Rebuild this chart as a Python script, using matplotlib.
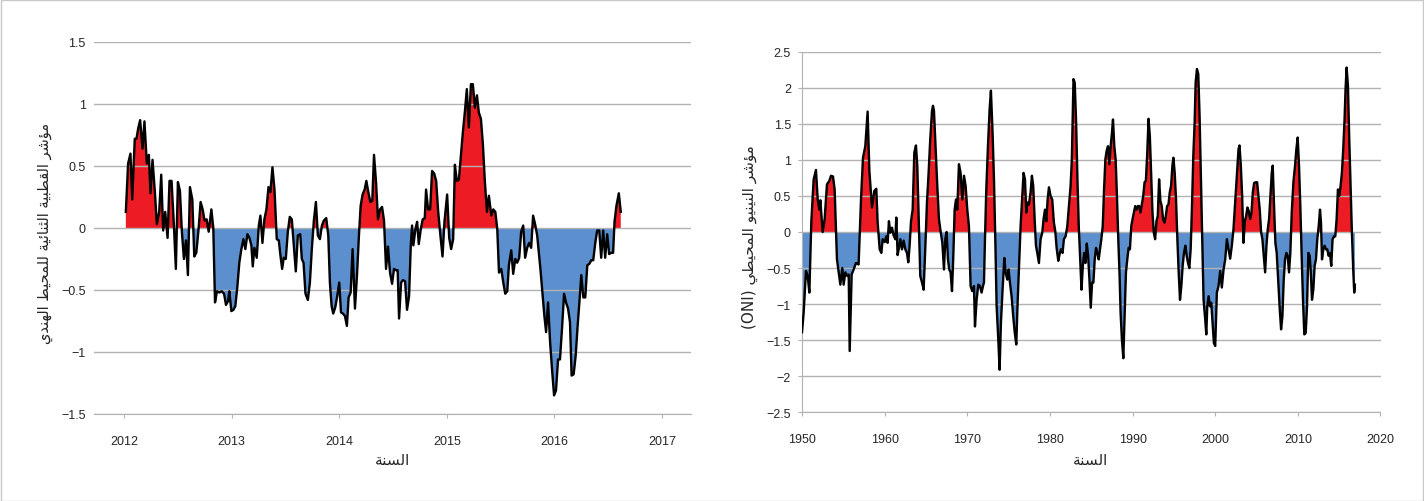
import matplotlib.pyplot as plt
from matplotlib.patches import Rectangle
import numpy as np

# Indian Ocean Dipole index, weekly
iod_year = [
    2012.016, 2012.037, 2012.059, 2012.075, 2012.099, 2012.115, 2012.130, 2012.149, 2012.171, 2012.189,
    2012.211, 2012.230, 2012.245, 2012.264, 2012.286, 2012.304, 2012.326, 2012.345, 2012.363, 2012.382,
    2012.404, 2012.422, 2012.441, 2012.463, 2012.481, 2012.500, 2012.519, 2012.537, 2012.556, 2012.575,
    2012.593, 2012.612, 2012.634, 2012.652, 2012.671, 2012.693, 2012.711, 2012.730, 2012.748, 2012.767,
    2012.786, 2012.811, 2012.829, 2012.845, 2012.863, 2012.885, 2012.907, 2012.929, 2012.947, 2012.966,
    2012.978, 2012.997, 2013.016, 2013.034, 2013.053, 2013.071, 2013.090, 2013.109, 2013.127, 2013.146,
    2013.165, 2013.183, 2013.196, 2013.211, 2013.233, 2013.252, 2013.267, 2013.286, 2013.304, 2013.323,
    2013.342, 2013.360, 2013.379, 2013.398, 2013.419, 2013.438, 2013.453, 2013.469, 2013.484, 2013.503,
    2013.522, 2013.540, 2013.559, 2013.578, 2013.596, 2013.615, 2013.637,
    2013.652, 2013.668, 2013.686, 2013.708, 2013.727, 2013.745, 2013.764, 2013.783, 2013.801, 2013.820,
    2013.839, 2013.857, 2013.879, 2013.898, 2013.913, 2013.929, 2013.944, 2013.963, 2013.981, 2014.000,
    2014.016, 2014.034, 2014.053, 2014.071, 2014.087, 2014.106, 2014.124, 2014.146, 2014.165, 2014.183,
    2014.199, 2014.217, 2014.236, 2014.252, 2014.270, 2014.289, 2014.307, 2014.323, 2014.342, 2014.360,
    2014.379, 2014.398, 2014.416, 2014.435, 2014.453, 2014.472, 2014.491, 2014.509, 2014.528, 2014.543,
    2014.556, 2014.575, 2014.593, 2014.612, 2014.630, 2014.649, 2014.665, 2014.677, 2014.689, 2014.708,
    2014.724, 2014.739, 2014.758, 2014.776, 2014.795, 2014.807, 2014.826, 2014.845, 2014.863, 2014.882,
    2014.901, 2014.919, 2014.938, 2014.960, 2014.978, 2015.003, 2015.022, 2015.040, 2015.059, 2015.075,
    2015.093, 2015.112, 2015.130, 2015.149, 2015.168, 2015.186, 2015.205, 2015.224, 2015.242, 2015.261,
    2015.280, 2015.298, 2015.317, 2015.335, 2015.354, 2015.373, 2015.391,
    2015.414, 2015.432, 2015.451, 2015.469, 2015.485, 2015.506, 2015.525, 2015.543, 2015.562, 2015.577,
    2015.599, 2015.617, 2015.636, 2015.654, 2015.673, 2015.691, 2015.710, 2015.728, 2015.747, 2015.765,
    2015.784, 2015.802, 2015.821, 2015.840, 2015.858, 2015.870, 2015.889, 2015.907, 2015.923, 2015.941,
    2015.960, 2015.978, 2015.997, 2016.015, 2016.034, 2016.052, 2016.071, 2016.090, 2016.108, 2016.127,
    2016.145, 2016.160, 2016.179, 2016.198, 2016.216, 2016.235, 2016.250, 2016.269, 2016.287, 2016.306,
    2016.324, 2016.343, 2016.361, 2016.380, 2016.398, 2016.417, 2016.435, 2016.454, 2016.472, 2016.491,
    2016.509, 2016.528, 2016.546, 2016.559, 2016.577, 2016.599, 2016.617,
]
iod_value = [
    0.13, 0.52, 0.60, 0.23, 0.72, 0.72, 0.80, 0.87, 0.64, 0.86,
    0.52, 0.59, 0.28, 0.55, 0.29, 0.03, 0.13, 0.43, -0.02, 0.13,
    -0.08, 0.38, 0.38, 0.02, -0.33, 0.37, 0.30, -0.03, -0.25, -0.10,
    -0.38, 0.33, 0.23, -0.23, -0.20, 0.00, 0.21, 0.15, 0.06, 0.07,
    -0.03, 0.15, 0.00, -0.60, -0.51, -0.52, -0.51, -0.53, -0.62, -0.59,
    -0.51, -0.67, -0.66, -0.63, -0.47, -0.28, -0.17, -0.09, -0.17, -0.05,
    -0.08, -0.14, -0.31, -0.16, -0.24, 0.02, 0.10, -0.12, 0.07, 0.15,
    0.33, 0.29, 0.49, 0.31, -0.09, -0.10, -0.22, -0.33, -0.24, -0.25,
    -0.03, 0.09, 0.07, -0.14, -0.35, -0.06, -0.05,
    -0.25, -0.28, -0.53, -0.58, -0.44, -0.17, 0.06, 0.21, -0.06, -0.09,
    0.02, 0.06, 0.08, -0.06, -0.44, -0.63, -0.69, -0.64, -0.55, -0.44,
    -0.68, -0.69, -0.71, -0.79, -0.56, -0.52, -0.17, -0.65, -0.38, -0.06,
    0.18, 0.27, 0.31, 0.38, 0.29, 0.21, 0.22, 0.59, 0.37, 0.07,
    0.15, 0.17, 0.06, -0.33, -0.15, -0.36, -0.45, -0.33, -0.34, -0.34,
    -0.73, -0.44, -0.42, -0.43, -0.66, -0.55, -0.14, 0.02, -0.14, -0.01,
    0.05, -0.13, -0.01, 0.07, 0.08, 0.31, 0.15, 0.15, 0.46, 0.44,
    0.38, 0.14, -0.04, -0.23, 0.05, 0.27, -0.08, -0.17, -0.09, 0.51,
    0.38, 0.39, 0.58, 0.77, 0.94, 1.12, 0.81, 1.16, 1.16, 0.97,
    1.07, 0.93, 0.88, 0.68, 0.37, 0.13, 0.26,
    0.10, 0.15, 0.13, -0.01, -0.36, -0.33, -0.44, -0.53, -0.51, -0.30,
    -0.18, -0.37, -0.25, -0.28, -0.24, -0.03, 0.02, -0.24, -0.16, -0.12,
    -0.16, 0.10, 0.03, -0.06, -0.22, -0.33, -0.52, -0.71, -0.84, -0.60,
    -0.92, -1.14, -1.35, -1.31, -1.06, -1.06, -0.81, -0.53, -0.60, -0.65,
    -0.76, -1.19, -1.18, -1.03, -0.79, -0.57, -0.38, -0.56, -0.56, -0.30,
    -0.29, -0.26, -0.26, -0.12, -0.02, -0.02, -0.24, -0.02, -0.24, -0.05,
    -0.21, -0.20, -0.20, 0.05, 0.18, 0.28, 0.13,
]

# Oceanic Nino Index
oni_year = [
    1950.00, 1950.20, 1950.48, 1950.69, 1950.89, 1951.13, 1951.41, 1951.69, 1951.90, 1952.10,
    1952.22, 1952.50, 1952.74, 1953.02, 1953.31, 1953.51, 1953.75, 1953.95, 1954.23, 1954.48,
    1954.64, 1954.88, 1955.04, 1955.24, 1955.48, 1955.65, 1955.77, 1956.01, 1956.25, 1956.53,
    1956.85, 1957.14, 1957.38, 1957.66, 1957.94, 1958.15, 1958.47, 1958.75, 1958.99, 1959.15,
    1959.40, 1959.60, 1959.76, 1960.00, 1960.20, 1960.36, 1960.52, 1960.69, 1960.89, 1961.09,
    1961.29, 1961.41, 1961.57, 1961.73, 1961.90, 1962.10, 1962.30, 1962.50, 1962.70, 1962.86,
    1963.02, 1963.19, 1963.39, 1963.59, 1963.79, 1963.95, 1964.15, 1964.31, 1964.52, 1964.72,
    1964.92, 1965.12, 1965.32, 1965.52, 1965.73, 1965.85, 1965.97, 1966.17, 1966.37, 1966.57,
    1966.77, 1966.98, 1967.18, 1967.34, 1967.50, 1967.66, 1967.82, 1967.98, 1968.15, 1968.31,
    1968.47, 1968.63, 1968.79, 1968.99, 1969.19, 1969.40, 1969.60, 1969.80, 1970.00, 1970.20,
    1970.40, 1970.60, 1970.81, 1970.93, 1971.13, 1971.33, 1971.53, 1971.73, 1971.90, 1972.02,
    1972.14, 1972.30, 1972.50, 1972.70, 1972.86, 1973.06, 1973.23, 1973.39, 1973.55, 1973.75,
    1973.91, 1974.07, 1974.27, 1974.48, 1974.64, 1974.84, 1975.00, 1975.16, 1975.36, 1975.56,
    1975.73, 1975.93, 1976.09, 1976.29, 1976.45, 1976.65, 1976.81, 1976.98, 1977.14, 1977.26,
    1977.46, 1977.66, 1977.82, 1977.98, 1978.15, 1978.31, 1978.47, 1978.67, 1978.87, 1979.07,
    1979.23, 1979.40, 1979.56, 1979.72, 1979.88, 1980.08, 1980.28, 1980.48, 1980.65, 1980.81,
    1981.01, 1981.17, 1981.33, 1981.53, 1981.69, 1981.90, 1982.10, 1982.30, 1982.50, 1982.65,
    1982.85, 1983.00, 1983.17, 1983.33, 1983.49, 1983.65, 1983.82, 1983.98, 1984.14, 1984.30,
    1984.46, 1984.62, 1984.78, 1984.94, 1985.10, 1985.26, 1985.42, 1985.58, 1985.74, 1985.90,
    1986.06, 1986.22, 1986.39, 1986.55, 1986.71, 1986.87, 1987.03, 1987.19, 1987.35, 1987.51,
    1987.63, 1987.79, 1987.95, 1988.11, 1988.27, 1988.43, 1988.55, 1988.71, 1988.88, 1989.04,
    1989.20, 1989.36, 1989.52, 1989.68, 1989.84, 1990.00, 1990.16, 1990.32, 1990.48, 1990.64,
    1990.80, 1990.96, 1991.12, 1991.29, 1991.45, 1991.61, 1991.77, 1991.93, 1992.09, 1992.25,
    1992.41, 1992.57, 1992.73, 1992.89, 1993.05, 1993.21, 1993.37, 1993.53, 1993.69, 1993.86,
    1994.02, 1994.18, 1994.34, 1994.50, 1994.66, 1994.82, 1994.94, 1995.10, 1995.26, 1995.42,
    1995.58, 1995.74, 1995.90, 1996.06, 1996.22, 1996.39, 1996.55, 1996.71, 1996.87, 1997.03,
    1997.19, 1997.35, 1997.51, 1997.63, 1997.79, 1997.95, 1998.11, 1998.27, 1998.43, 1998.59,
    1998.76, 1998.92, 1999.04, 1999.20, 1999.36, 1999.52, 1999.68, 1999.84, 2000.00, 2000.20,
    2000.40, 2000.60, 2000.80, 2001.01, 2001.21, 2001.41, 2001.61, 2001.81, 2002.01, 2002.21,
    2002.41, 2002.62, 2002.82, 2002.94, 2003.10, 2003.26, 2003.42, 2003.58, 2003.74, 2003.90,
    2004.06, 2004.23, 2004.39, 2004.55, 2004.71, 2004.91, 2005.07, 2005.23, 2005.39, 2005.55,
    2005.71, 2005.88, 2006.04, 2006.20, 2006.36, 2006.52, 2006.68, 2006.84, 2006.96, 2007.12,
    2007.28, 2007.44, 2007.65, 2007.81, 2007.97, 2008.13, 2008.29, 2008.45, 2008.61, 2008.77,
    2008.93, 2009.09, 2009.26, 2009.46, 2009.66, 2009.82, 2009.98, 2010.14, 2010.30, 2010.46,
    2010.62, 2010.78, 2010.95, 2011.11, 2011.27, 2011.43, 2011.55, 2011.71, 2011.87, 2012.03,
    2012.19, 2012.35, 2012.52, 2012.68, 2012.80, 2012.92, 2013.08, 2013.24, 2013.40, 2013.56,
    2013.72, 2013.88, 2014.04, 2014.20, 2014.37, 2014.53, 2014.69, 2014.85, 2015.01, 2015.17,
    2015.33, 2015.49, 2015.65, 2015.77, 2015.90, 2016.06, 2016.22, 2016.38, 2016.54, 2016.70,
    2016.82, 2016.90,
]
oni_value = [
    -1.39, -1.12, -0.54, -0.61, -0.84, 0.15, 0.73, 0.86, 0.45, 0.31,
    0.44, 0.00, 0.18, 0.66, 0.71, 0.78, 0.77, 0.59, -0.38, -0.59,
    -0.73, -0.50, -0.73, -0.56, -0.61, -0.59, -1.65, -0.59, -0.52, -0.43,
    -0.45, 0.45, 1.03, 1.19, 1.67, 0.85, 0.34, 0.57, 0.60, 0.14,
    -0.24, -0.29, -0.10, -0.14, -0.06, -0.15, 0.15, -0.01, 0.06, -0.05,
    -0.10, 0.20, -0.32, -0.22, -0.10, -0.24, -0.12, -0.24, -0.29, -0.42,
    -0.19, 0.15, 0.31, 1.10, 1.20, 0.92, 0.08, -0.61, -0.70, -0.80,
    -0.22, 0.41, 0.82, 1.29, 1.68, 1.75, 1.68, 1.15, 0.64, 0.18,
    0.01, -0.15, -0.52, -0.10, 0.00, -0.38, -0.52, -0.56, -0.82, -0.33,
    0.31, 0.45, 0.31, 0.94, 0.82, 0.45, 0.78, 0.64, 0.31, 0.08,
    -0.75, -0.82, -0.75, -1.31, -0.94, -0.73, -0.75, -0.84, -0.75, -0.70,
    -0.10, 0.59, 1.19, 1.70, 1.96, 1.38, 0.73, -0.10, -1.03, -1.49,
    -1.91, -1.26, -0.80, -0.36, -0.56, -0.66, -0.52, -0.70, -0.89, -1.17,
    -1.38, -1.56, -0.98, -0.38, 0.08, 0.50, 0.82, 0.73, 0.27, 0.41,
    0.38, 0.55, 0.78, 0.64, 0.18, -0.19, -0.29, -0.43, -0.10, -0.01,
    0.18, 0.31, 0.15, 0.45, 0.62, 0.50, 0.45, 0.13, 0.01, -0.22,
    -0.40, -0.31, -0.24, -0.29, -0.10, -0.06, 0.08, 0.36, 0.64, 1.00,
    2.12, 2.07, 1.52, 0.73, 0.08, -0.33, -0.80, -0.47, -0.29, -0.43,
    -0.16, -0.33, -0.66, -1.05, -0.70, -0.70, -0.38, -0.22, -0.29, -0.38,
    -0.24, -0.10, 0.08, 0.59, 1.01, 1.13, 1.19, 0.94, 1.19, 1.38,
    1.56, 1.19, 1.01, 0.50, -0.10, -0.61, -1.12, -1.49, -1.75, -1.17,
    -0.56, -0.38, -0.22, -0.24, 0.08, 0.18, 0.27, 0.36, 0.31, 0.36,
    0.36, 0.27, 0.38, 0.50, 0.69, 0.71, 1.08, 1.57, 1.33, 0.82,
    0.27, -0.01, -0.10, 0.15, 0.22, 0.73, 0.43, 0.36, 0.18, 0.13,
    0.22, 0.36, 0.38, 0.55, 0.64, 0.92, 1.03, 0.82, 0.45, -0.10,
    -0.56, -0.94, -0.75, -0.47, -0.29, -0.19, -0.33, -0.43, -0.50, -0.24,
    0.36, 1.06, 1.52, 2.07, 2.26, 2.19, 1.61, 0.73, -0.10, -0.94,
    -1.17, -1.42, -1.03, -0.89, -1.03, -0.98, -1.26, -1.54, -1.58, -0.84,
    -0.75, -0.54, -0.77, -0.52, -0.38, -0.10, -0.24, -0.37, -0.19, 0.04,
    0.41, 0.78, 1.15, 1.20, 0.92, 0.50, -0.15, 0.15, 0.22, 0.34,
    0.29, 0.18, 0.27, 0.55, 0.68, 0.69, 0.69, 0.50, 0.31, 0.00,
    -0.10, -0.33, -0.56, -0.19, 0.04, 0.18, 0.50, 0.82, 0.92, 0.36,
    -0.15, -0.29, -0.74, -1.07, -1.35, -1.17, -0.66, -0.38, -0.29, -0.33,
    -0.56, -0.29, 0.27, 0.69, 0.92, 1.15, 1.31, 0.92, 0.36, -0.33,
    -0.94, -1.42, -1.40, -1.03, -0.29, -0.33, -0.52, -0.94, -0.80, -0.47,
    -0.38, -0.10, 0.08, 0.31, 0.13, -0.38, -0.24, -0.19, -0.24, -0.24,
    -0.33, -0.29, -0.47, -0.10, -0.06, -0.06, 0.18, 0.59, 0.50, 0.64,
    0.82, 1.15, 1.56, 1.98, 2.28, 2.03, 1.29, 0.64, -0.01, -0.52,
    -0.84, -0.73,
]

iod_xticks = [2012, 2013, 2014, 2015, 2016, 2017]
iod_yticks = [-1.5, -1, -0.5, 0, 0.5, 1, 1.5]
oni_xticks = [1950, 1960, 1970, 1980, 1990, 2000, 2010, 2020]
oni_yticks = [-2.5, -2, -1.5, -1, -0.5, 0, 0.5, 1, 1.5, 2, 2.5]

x_title = 'السنة'
iod_title = 'مؤشر القطبية الثنائية للمحيط الهندي'
oni_title = 'مؤشر النينيو المحيطي'

RED = '#ed1c24'
BLUE = '#5b8fcd'
GRID = '#b2b2b2'
TXT = '#262626'

# Arabic presentation forms: isolated, final, initial, medial
FORMS = {
    'ا': '\uFE8D\uFE8E', 'ؤ': '\uFE85\uFE86', 'د': '\uFEA9\uFEAA', 'ر': '\uFEAD\uFEAE',
    'و': '\uFEED\uFEEE', 'ة': '\uFE93\uFE94',
    'ب': '\uFE8F\uFE90\uFE91\uFE92', 'ث': '\uFE99\uFE9A\uFE9B\uFE9C', 'ح': '\uFEA1\uFEA2\uFEA3\uFEA4',
    'س': '\uFEB1\uFEB2\uFEB3\uFEB4', 'ش': '\uFEB5\uFEB6\uFEB7\uFEB8', 'ط': '\uFEC1\uFEC2\uFEC3\uFEC4',
    'ق': '\uFED5\uFED6\uFED7\uFED8', 'ل': '\uFEDD\uFEDE\uFEDF\uFEE0', 'م': '\uFEE1\uFEE2\uFEE3\uFEE4',
    'ن': '\uFEE5\uFEE6\uFEE7\uFEE8', 'ه': '\uFEE9\uFEEA\uFEEB\uFEEC', 'ي': '\uFEF1\uFEF2\uFEF3\uFEF4',
    'ئ': '\uFE89\uFE8A\uFE8B\uFE8C',
}


def shape(text):
    # join letters and put them in visual (left-to-right) order
    words = []
    for word in text.split(' '):
        out = ''
        for i, ch in enumerate(word):
            forms = FORMS.get(ch)
            if forms is None:
                out += ch
                continue
            prev = word[i - 1] if i > 0 else ''
            nxt = word[i + 1] if i < len(word) - 1 else ''
            jp = prev in FORMS and len(FORMS[prev]) == 4
            jn = nxt in FORMS and len(forms) == 4
            k = 3 if (jp and jn) else 1 if jp else 2 if jn else 0
            out += forms[k]
        words.append(out)
    return ' '.join(words)[::-1]


def fmt(v):
    return '{:g}'.format(v).replace('-', '\u2212')


def draw(ax, x, y, xlim, ylim, xticks, yticks, left_spine):
    x = np.array(x)
    y = np.array(y)
    ax.fill_between(x, y, 0, where=y >= 0, interpolate=True, color=RED, lw=0, zorder=1)
    ax.fill_between(x, y, 0, where=y <= 0, interpolate=True, color=BLUE, lw=0, zorder=1)
    ax.plot(x, y, color='black', lw=1.7, zorder=3, solid_joinstyle='round')
    ax.set_xlim(*xlim)
    ax.set_ylim(*ylim)
    ax.set_xticks(xticks, labels=[str(t) for t in xticks])
    ax.set_yticks(yticks, labels=[fmt(t) for t in yticks])
    ax.yaxis.grid(True, color=GRID, lw=1)
    for s in ['top', 'right']:
        ax.spines[s].set_visible(False)
    ax.spines['bottom'].set_color(GRID)
    ax.spines['left'].set_color(GRID)
    ax.spines['left'].set_visible(left_spine)
    ax.tick_params(axis='x', direction='out', length=3, color=GRID, pad=12,
                   labelsize=9, labelcolor=TXT)
    ax.tick_params(axis='y', direction='out', length=3 if left_spine else 0, color=GRID,
                   pad=5 if left_spine else 6, labelsize=9, labelcolor=TXT)
    for lab in ax.get_xticklabels() + ax.get_yticklabels():
        lab.set_fontfamily(['Liberation Sans', 'DejaVu Sans'])


W, H = 1424, 502
fig = plt.figure(figsize=(W / 100, H / 100), dpi=100)
fig.patches.append(Rectangle((0.5 / W, 0.5 / H), 1 - 1.5 / W, 1 - 1.5 / H, transform=fig.transFigure,
                             fill=False, edgecolor='#c8c8c8', lw=1))

ax1 = fig.add_axes([94 / W, 1 - 415 / H, 597 / W, 372 / H])
draw(ax1, iod_year, iod_value, (2011.72, 2017.27), (-1.5, 1.5), iod_xticks, iod_yticks, False)

ax2 = fig.add_axes([802 / W, 1 - 413.3 / H, 578.5 / W, 360.6 / H])
draw(ax2, oni_year, oni_value, (1950, 2020), (-2.5, 2.5), oni_xticks, oni_yticks, True)

ar = dict(family=['DejaVu Sans'], color=TXT, ha='center', va='center')
fig.text(392 / W, 1 - 461 / H, shape(x_title), fontsize=11, **ar)
fig.text(1091 / W, 1 - 461 / H, shape(x_title), fontsize=11, **ar)
fig.text(45 / W, 1 - 233 / H, shape(iod_title), rotation=90, fontsize=10.5, **ar)
fig.text(750 / W, 1 - 237 / H, '(ONI) ' + shape(oni_title), rotation=90, fontsize=11, **ar)

fig.savefig('out.png', dpi=100)
